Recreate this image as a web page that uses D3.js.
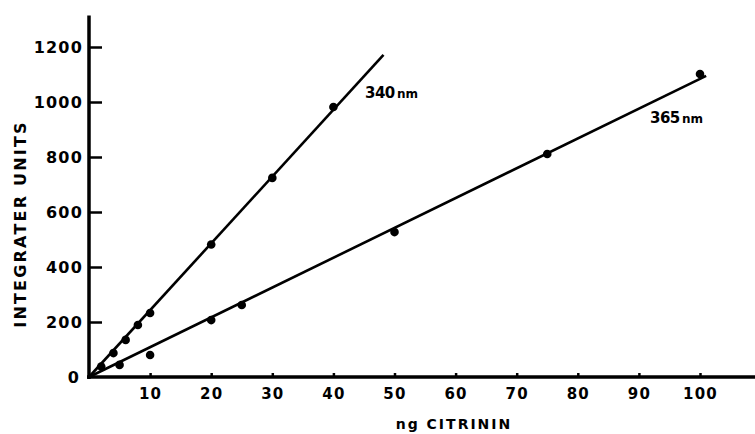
<!DOCTYPE html>
<html>
<head>
<meta charset="utf-8">
<script src="https://cdn.jsdelivr.net/npm/d3@7"></script>
<style>
  html, body { margin: 0; padding: 0; background: #fff; }
  svg { display: block; }
  text { font-family: "DejaVu Sans", sans-serif; fill: #000; }
</style>
</head>
<body>
<svg id="chart" width="755" height="434"></svg>
<script>
// ---- data ----
const xTicks = [10, 20, 30, 40, 50, 60, 70, 80, 90, 100];
const yTicks = [0, 200, 400, 600, 800, 1000, 1200];

const nm340X = [2, 4, 6, 8, 10, 20, 30, 40];
const nm340Y = [38, 87, 135, 189, 233, 482, 724, 982];
const nm340LineX = [0, 48.2];
const nm340LineY = [0, 1171];

const nm365X = [5, 10, 20, 25, 50, 75, 100];
const nm365Y = [44, 80, 207, 262, 527, 811, 1102];
const nm365LineX = [0, 101];
const nm365LineY = [0, 1095];

const seriesLabels = ["340", "365"];
const xTitle = "ng CITRININ";
const yTitle = "INTEGRATER UNITS";

// ---- scales ----
const svg = d3.select("#chart");
const x = d3.scaleLinear().domain([0, 100]).range([89, 700]);
const y = d3.scaleLinear().domain([0, 1200]).range([377, 47]);

// ---- axes ----
const yAxis = d3.axisLeft(y).tickValues(yTicks).tickSize(-13).tickPadding(6)
  .tickFormat(d3.format("d"));
const gy = svg.append("g").attr("transform", `translate(${x(0)},0)`).call(yAxis);
gy.select(".domain").remove();
gy.selectAll(".tick line").attr("stroke", "#000").attr("stroke-width", 2.5);
gy.selectAll(".tick text").attr("font-size", 16).attr("letter-spacing", 1.2)
  .attr("font-weight", "bold").attr("dy", "0.35em");
gy.selectAll(".tick").filter(d => d === 0).select("line").remove();
gy.selectAll(".tick").filter(d => d === 0).select("text").attr("x", -9);

const xAxis = d3.axisBottom(x).tickValues(xTicks)
  .tickSize(-4).tickPadding(11).tickFormat(d3.format("d"));
const gx = svg.append("g").attr("transform", `translate(0,${y(0)})`).call(xAxis);
gx.select(".domain").remove();
gx.selectAll(".tick line").attr("stroke", "#000").attr("stroke-width", 2.5);
gx.selectAll(".tick text").attr("font-size", 15).attr("letter-spacing", 1.2)
  .attr("font-weight", "bold");

// thick axis lines
svg.append("line").attr("x1", x(0)).attr("x2", x(0))
  .attr("y1", y(1315)).attr("y2", y(0) + 2)
  .attr("stroke", "#000").attr("stroke-width", 3.5);
svg.append("line").attr("x1", x(0) - 2).attr("x2", 755)
  .attr("y1", y(0)).attr("y2", y(0))
  .attr("stroke", "#000").attr("stroke-width", 3.5);

// ---- lines ----
const line = d3.line().x(d => x(d[0])).y(d => y(d[1]));
svg.append("path").datum(d3.zip(nm340LineX, nm340LineY)).attr("d", line)
  .attr("fill", "none").attr("stroke", "#000").attr("stroke-width", 2.6);
svg.append("path").datum(d3.zip(nm365LineX, nm365LineY)).attr("d", line)
  .attr("fill", "none").attr("stroke", "#000").attr("stroke-width", 2.6);

// ---- points ----
svg.append("g").selectAll("circle").data(d3.zip(nm340X, nm340Y)).join("circle")
  .attr("cx", d => x(d[0])).attr("cy", d => y(d[1])).attr("r", 4.3).attr("fill", "#000");
svg.append("g").selectAll("circle").data(d3.zip(nm365X, nm365Y)).join("circle")
  .attr("cx", d => x(d[0])).attr("cy", d => y(d[1])).attr("r", 4.3).attr("fill", "#000");

// ---- series labels ----
const lab1 = svg.append("text").attr("x", 365).attr("y", 98).attr("font-size", 15);
lab1.append("tspan").text(seriesLabels[0]).attr("font-weight", "bold").attr("letter-spacing", -0.5);
lab1.append("tspan").text(" nm").attr("font-size", 12).attr("dx", -2).attr("font-weight", "bold");
const lab2 = svg.append("text").attr("x", 650).attr("y", 123).attr("font-size", 15);
lab2.append("tspan").text(seriesLabels[1]).attr("font-weight", "bold").attr("letter-spacing", -0.5);
lab2.append("tspan").text(" nm").attr("font-size", 12).attr("dx", -2).attr("font-weight", "bold");

// ---- axis titles ----
svg.append("text").attr("x", 454).attr("y", 429).attr("text-anchor", "middle")
  .attr("font-size", 14).attr("font-weight", "bold").attr("letter-spacing", 2).text(xTitle);
svg.append("text").attr("transform", "translate(26,224) rotate(-90)")
  .attr("text-anchor", "middle").attr("font-size", 16).attr("font-weight", "bold")
  .attr("letter-spacing", 2.2).text(yTitle);
</script>
</body>
</html>
